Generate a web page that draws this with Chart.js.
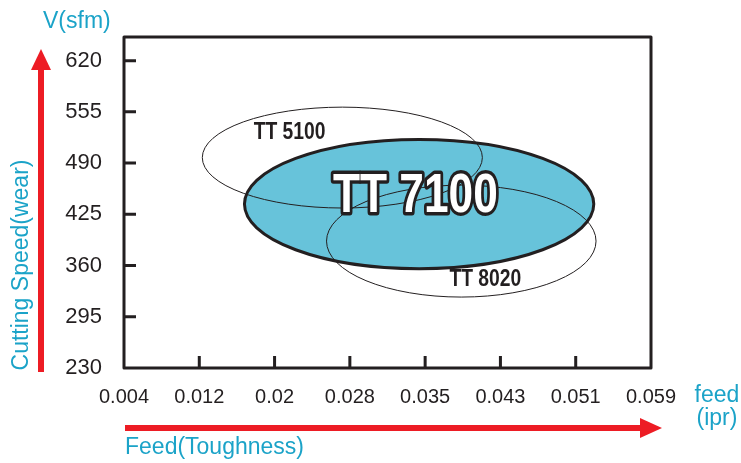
<!DOCTYPE html>
<html>
<head>
<meta charset="utf-8">
<script src="https://cdn.jsdelivr.net/npm/chart.js@4.4.1/dist/chart.umd.min.js"></script>
<style>
  html, body { margin: 0; padding: 0; background: #ffffff; }
  #wrap { width: 741px; height: 463px; position: relative; }
</style>
</head>
<body>
<div id="wrap"><canvas id="grade-chart" width="741" height="463"></canvas></div>
<script>
// 축 눈금 라벨
const feedLabels = ['0.004', '0.012', '0.02', '0.028', '0.035', '0.043', '0.051', '0.059'];
const speedTicks = [230, 295, 360, 425, 490, 555, 620];

// 등급별 영역 (x는 feed 눈금 인덱스, y는 sfm)
const gradeNames = ['TT 7100', 'TT 5100', 'TT 8020'];
const gradeCenterX = [3.92, 2.9, 4.48];
const gradeCenterY = [438, 497, 391];
const gradeRadiusX = [2.32, 1.86, 1.79];
const gradeRadiusY = [82, 64, 71];
const gradeLabelX = [3.87, 2.2, 4.8];
const gradeLabelY = [447, 528, 342];

const INK = '#231f20';
const CYAN = '#1ba3c8';
const RED = '#ed1c24';

// 좁은 글꼴이 없어서 가로로 눌러서 그림
function condensedText(ctx, text, x, y, squeeze, stroke) {
    ctx.save();
    ctx.translate(x, y);
    ctx.scale(squeeze, 1);
    if (stroke) ctx.strokeText(text, 0, 0);
    ctx.fillText(text, 0, 0);
    ctx.restore();
}

// 타원, 프레임, 안쪽 눈금, 화살표를 그리는 플러그인
const gradePlugin = {
    id: 'gradePlugin',
    afterDatasetsDraw(chart) {
        const ctx = chart.ctx;
        const xs = chart.scales.x, ys = chart.scales.y;
        const area = chart.chartArea;

        const ellipse = (i) => {
            const cx = xs.getPixelForValue(gradeCenterX[i]);
            const cy = ys.getPixelForValue(gradeCenterY[i]);
            const rx = Math.abs(xs.getPixelForValue(gradeCenterX[i] + gradeRadiusX[i]) - cx);
            const ry = Math.abs(ys.getPixelForValue(gradeCenterY[i] + gradeRadiusY[i]) - cy);
            ctx.beginPath();
            ctx.ellipse(cx, cy, rx, ry, 0, 0, Math.PI * 2);
        };

        ctx.save();
        // 메인 등급 (채움)
        ellipse(0);
        ctx.fillStyle = '#67c3da';
        ctx.fill();
        ctx.lineWidth = 3;
        ctx.strokeStyle = INK;
        ctx.stroke();

        // 나머지 등급 (외곽선만)
        ctx.lineWidth = 1;
        ctx.strokeStyle = INK;
        for (let i = 1; i < gradeNames.length; i++) {
            ellipse(i);
            ctx.stroke();
        }

        // 작은 라벨
        ctx.textAlign = 'center';
        ctx.textBaseline = 'middle';
        ctx.fillStyle = INK;
        ctx.font = 'bold 23px "Liberation Sans", Arial, sans-serif';
        for (let i = 1; i < gradeNames.length; i++) {
            condensedText(ctx, gradeNames[i], xs.getPixelForValue(gradeLabelX[i]), ys.getPixelForValue(gradeLabelY[i]), 0.84, false);
        }

        // 큰 라벨 (흰 글자 + 검은 외곽선)
        ctx.font = 'bold 56px "Liberation Sans", Arial, sans-serif';
        ctx.lineJoin = 'round';
        ctx.lineWidth = 7;
        ctx.strokeStyle = INK;
        ctx.fillStyle = '#ffffff';
        condensedText(ctx, gradeNames[0], xs.getPixelForValue(gradeLabelX[0]), ys.getPixelForValue(gradeLabelY[0]), 0.79, true);

        // 프레임
        ctx.lineWidth = 3;
        ctx.strokeStyle = INK;
        ctx.strokeRect(area.left, area.top, area.right - area.left, area.bottom - area.top);

        // 안쪽 눈금
        ctx.beginPath();
        ys.ticks.forEach(t => {
            const y = ys.getPixelForValue(t.value);
            if (t.value > ys.min) { ctx.moveTo(area.left, y); ctx.lineTo(area.left + 12, y); }
        });
        xs.ticks.forEach(t => {
            const x = xs.getPixelForValue(t.value);
            if (t.value > xs.min && t.value < xs.max) { ctx.moveTo(x, area.bottom); ctx.lineTo(x, area.bottom - 12); }
        });
        ctx.stroke();

        // 빨간 화살표 (세로)
        ctx.fillStyle = RED;
        ctx.fillRect(38, 68, 6, 304);
        ctx.beginPath();
        ctx.moveTo(41, 49); ctx.lineTo(51, 70); ctx.lineTo(31, 70); ctx.closePath();
        ctx.fill();
        // 빨간 화살표 (가로)
        ctx.fillRect(125, 425, 518, 6);
        ctx.beginPath();
        ctx.moveTo(662, 428); ctx.lineTo(640, 418); ctx.lineTo(640, 438); ctx.closePath();
        ctx.fill();

        // 축 제목
        ctx.fillStyle = CYAN;
        ctx.font = '23px "Liberation Sans", Arial, sans-serif';
        ctx.textAlign = 'left';
        ctx.textBaseline = 'middle';
        ctx.fillText('V(sfm)', 43, 22);
        ctx.fillText('Feed(Toughness)', 125, 448);
        ctx.textAlign = 'center';
        ctx.fillText('feed', 717, 396);
        ctx.fillText('(ipr)', 717, 419);
        ctx.save();
        ctx.translate(22, 265);
        ctx.rotate(-Math.PI / 2);
        ctx.fillText('Cutting Speed(wear)', 0, 0);
        ctx.restore();

        ctx.restore();
    }
};

function drawGradeChart() {
    const ctx = document.getElementById('grade-chart').getContext('2d');
    new Chart(ctx, {
        type: 'scatter',
        data: { datasets: [{ data: [], pointRadius: 0 }] },
        options: {
            responsive: false,
            animation: false,
            layout: { padding: { top: 37, right: 90, left: 0, bottom: 0 } },
            plugins: { legend: { display: false }, tooltip: { enabled: false } },
            scales: {
                x: {
                    type: 'linear',
                    min: 0,
                    max: feedLabels.length - 1,
                    afterFit: s => { s.height = 95; },
                    afterBuildTicks: s => { s.ticks = feedLabels.map((_, i) => ({ value: i })); },
                    grid: { display: false, drawTicks: false },
                    border: { display: false },
                    ticks: {
                        padding: 17,
                        color: INK,
                        font: { family: '"Liberation Sans", Arial, sans-serif', size: 20 },
                        callback: v => feedLabels[v]
                    }
                },
                y: {
                    type: 'linear',
                    min: 230,
                    max: 650,
                    afterFit: s => { s.width = 124; },
                    afterBuildTicks: s => { s.ticks = speedTicks.map(v => ({ value: v })); },
                    grid: { display: false, drawTicks: false },
                    border: { display: false },
                    ticks: {
                        padding: 22,
                        color: INK,
                        font: { family: '"Liberation Sans", Arial, sans-serif', size: 22 }
                    }
                }
            }
        },
        plugins: [gradePlugin]
    });
}

drawGradeChart();
</script>
</body>
</html>
